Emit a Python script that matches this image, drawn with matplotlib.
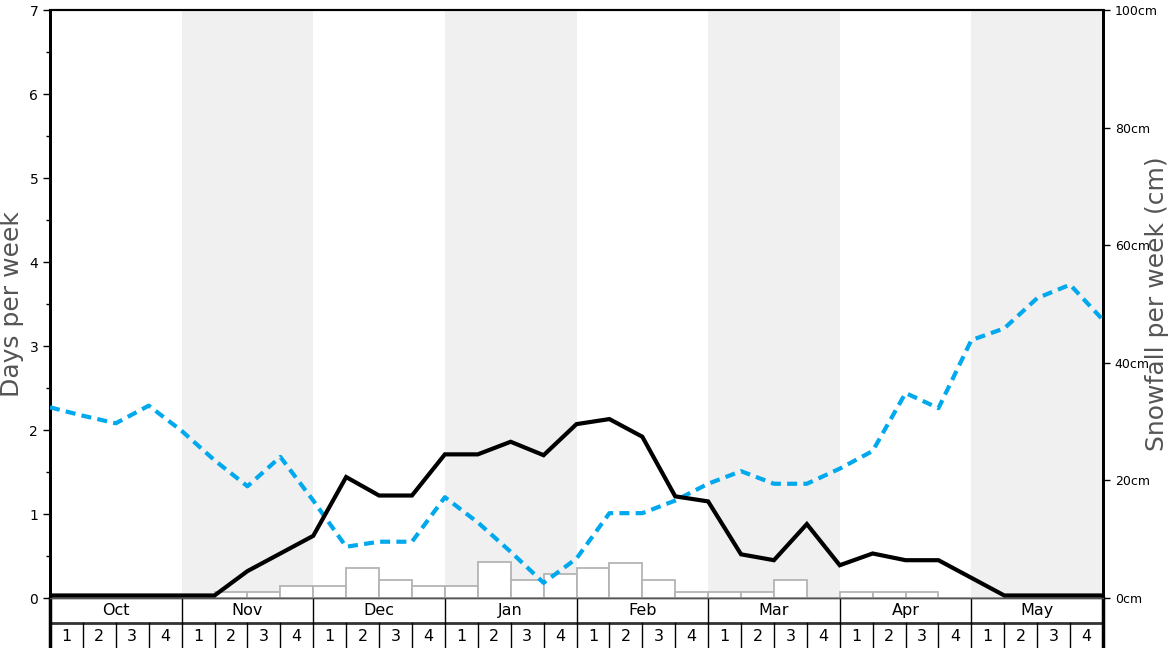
import matplotlib

matplotlib.use("Agg")
import matplotlib.pyplot as plt
import numpy as np

MONTHS = ["Oct", "Nov", "Dec", "Jan", "Feb", "Mar", "Apr", "May"]
WEEK_LABELS = ["1", "2", "3", "4"]
SHADED_MONTHS = ["Nov", "Jan", "Mar", "May"]

# snowfall per week (cm), one bar per week
SNOWFALL_CM = [
    0, 0, 0, 0,
    0, 1.1, 1.1, 2.0,
    2.0, 5.1, 3.1, 2.0,
    2.0, 6.1, 3.1, 4.1,
    5.1, 6.0, 3.0, 1.1,
    1.1, 1.1, 3.0, 0,
    1.1, 1.1, 1.1, 0,
    0, 0, 0, 0,
]

# days per week, sampled at week boundaries (33 points)
SNOW_DAYS = [
    0.03, 0.03, 0.03, 0.03, 0.03, 0.03, 0.32, 0.53, 0.74,
    1.44, 1.22, 1.22, 1.71, 1.71, 1.86, 1.70, 2.07,
    2.13, 1.92, 1.21, 1.15, 0.52, 0.45, 0.88, 0.39,
    0.53, 0.45, 0.45, 0.24, 0.03, 0.03, 0.03, 0.03,
]
OTHER_DAYS = [
    2.27, 2.17, 2.08, 2.29, 1.99, 1.64, 1.33, 1.68, 1.16,
    0.61, 0.67, 0.67, 1.20, 0.90, 0.55, 0.18, 0.47,
    1.01, 1.01, 1.16, 1.36, 1.51, 1.36, 1.36, 1.54,
    1.75, 2.44, 2.26, 3.07, 3.21, 3.57, 3.73, 3.31,
]

W, H = 1168, 648
n_weeks = len(MONTHS) * 4

fig = plt.figure(figsize=(W / 100, H / 100), dpi=100)
ax = fig.add_axes([50 / W, 50 / H, 1053 / W, 588 / H])
ax2 = ax.twinx()
ax.set_zorder(ax2.get_zorder() + 1)
ax.patch.set_visible(False)

# month shading + snowfall bars live on the cm axis, behind the lines
for i, m in enumerate(MONTHS):
    if m in SHADED_MONTHS:
        ax2.axvspan(i * 4, i * 4 + 4, color="#f0f0f0", lw=0, zorder=0)
x_bar = np.arange(n_weeks) + 0.5
ax2.bar(x_bar, SNOWFALL_CM, width=1.0, color="white", edgecolor="#b4b4b4", linewidth=1.3, zorder=2)
ax2.set_ylim(0, 100)
ax2.set_yticks([0, 20, 40, 60, 80, 100])
ax2.set_yticklabels([f"{v}cm" for v in [0, 20, 40, 60, 80, 100]], fontsize=9)
ax2.set_ylabel("Snowfall per week (cm)", fontsize=18, color="#555555")
ax2.yaxis.set_label_coords((1145 - 50) / 1053, 0.5)

x_line = np.arange(len(SNOW_DAYS))
ax.plot(x_line, OTHER_DAYS, color="#00a8ee", lw=3.0, dashes=(2.4, 1.5), dash_capstyle="butt", zorder=3)
ax.plot(x_line, SNOW_DAYS, color="black", lw=3.0, solid_joinstyle="miter", zorder=4)
ax.set_xlim(0, n_weeks)
ax.set_ylim(0, 7)
ax.set_yticks(range(8))
ax.set_yticks(np.arange(0.5, 7, 1), minor=True)
ax.tick_params(axis="y", labelsize=10, length=5, width=1)
ax.tick_params(axis="y", which="minor", length=3, width=1)
ax.set_xticks([])
ax.set_ylabel("Days per week", fontsize=18, color="#555555")
ax.yaxis.set_label_coords((24 - 50) / 1053, 0.5)

for a in (ax, ax2):
    a.spines["left"].set_linewidth(2)
    a.spines["right"].set_linewidth(2)
    a.spines["top"].set_linewidth(1.5)
    a.spines["bottom"].set_linewidth(1)
    a.spines["bottom"].set_color("#555555")
ax2.tick_params(axis="y", length=5, width=1)

# month / week table under the plot
tab = fig.add_axes([50 / W, 0, 1053 / W, 50 / H])
tab.set_xlim(0, n_weeks)
tab.set_ylim(0, 2)
tab.axis("off")
tab.axhline(1, color="#333333", lw=2)
for i, m in enumerate(MONTHS):
    tab.text(i * 4 + 2, 1.5, m, ha="center", va="center", fontsize=11.5)
    if i > 0:
        tab.plot([i * 4, i * 4], [1, 2], color="black", lw=1)
    for j, w in enumerate(WEEK_LABELS):
        tab.text(i * 4 + j + 0.5, 0.45, w, ha="center", va="center", fontsize=11.5)
for k in range(1, n_weeks):
    tab.plot([k, k], [0, 1], color="black", lw=1)
tab.plot([0, 0], [0, 2], color="black", lw=2.5, clip_on=False)
tab.plot([n_weeks, n_weeks], [0, 2], color="black", lw=2.5, clip_on=False)

fig.savefig("out.png", dpi=100)
plt.close(fig)
